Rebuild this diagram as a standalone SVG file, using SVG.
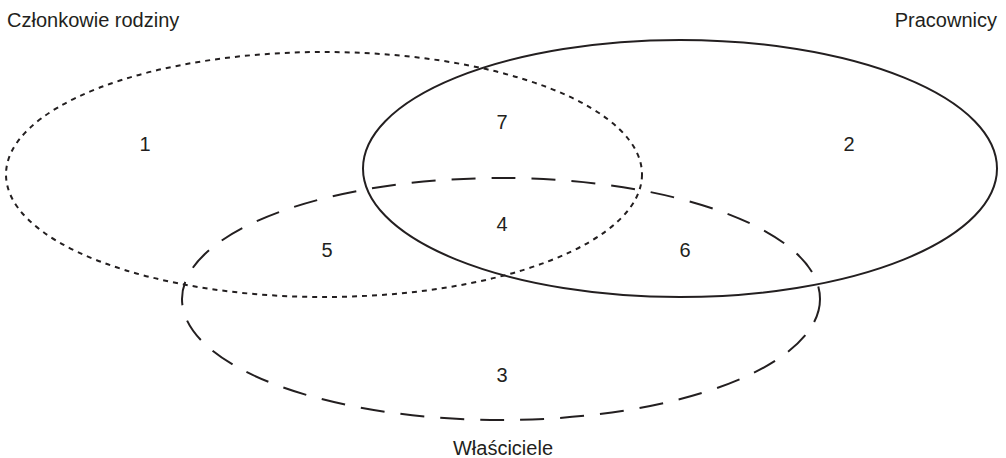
<svg xmlns="http://www.w3.org/2000/svg" width="1006" height="458" viewBox="0 0 1006 458">
<style>
.e{fill:none;stroke:#231f20;stroke-width:2}
.dot{stroke-dasharray:5 5}
.dash{stroke-dasharray:24 16}
text{font-family:"Liberation Sans",Arial,sans-serif;font-size:20px;fill:#231f20}
.n{text-anchor:middle}
</style>
<rect width="1006" height="458" fill="#fff"/>
<g id="connectors"></g>
<g id="family">
<ellipse class="e dot" cx="324" cy="174.5" rx="318" ry="122.5"/>
<text x="7" y="27">Członkowie rodziny</text>
</g>
<g id="employees">
<ellipse class="e" cx="680" cy="168.5" rx="317" ry="128.5"/>
<text x="997" y="27" text-anchor="end">Pracownicy</text>
</g>
<g id="owners">
<ellipse class="e dash" cx="501" cy="299" rx="319" ry="121"/>
<text x="503" y="455" class="n">Właściciele</text>
</g>
<g id="regions">
<text class="n" x="145" y="151">1</text>
<text class="n" x="849" y="151">2</text>
<text class="n" x="502" y="129">7</text>
<text class="n" x="502" y="231">4</text>
<text class="n" x="327" y="257">5</text>
<text class="n" x="685" y="257">6</text>
<text class="n" x="502" y="382">3</text>
</g>
</svg>
